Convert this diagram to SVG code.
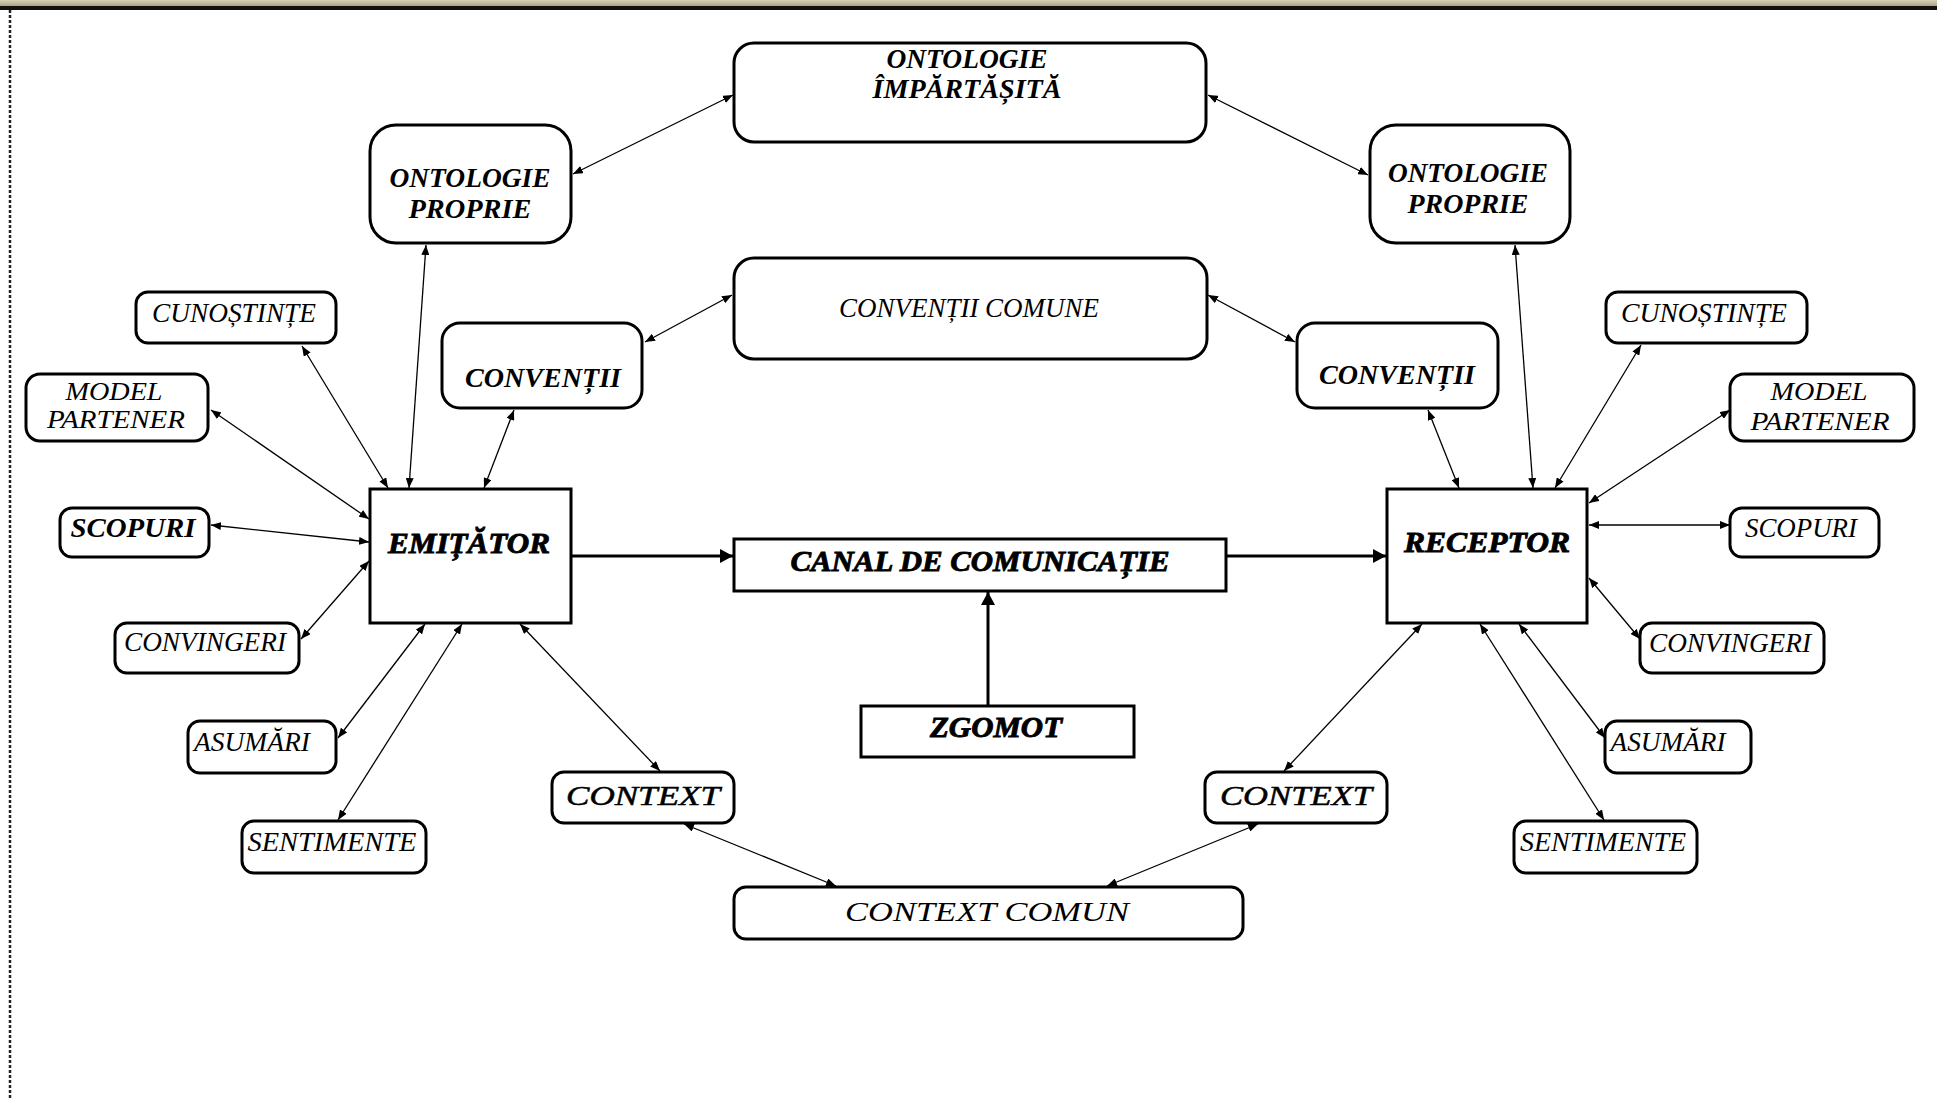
<svg xmlns="http://www.w3.org/2000/svg" width="1937" height="1099" viewBox="0 0 1937 1099">
<style>
.box{fill:#fff;stroke:#000;stroke-width:3}
.t{font-family:"Liberation Serif","Times New Roman",serif;font-style:italic;text-anchor:middle;fill:#000;font-size:28px}
.b{font-weight:bold}
.h{font-weight:bold;stroke:#000;stroke-width:0.9;font-size:30px}
.m{font-size:25px}
.c{stroke:#000;stroke-width:1.3;fill:none;marker-start:url(#a);marker-end:url(#a)}
.k{stroke:#000;stroke-width:3;fill:none;marker-end:url(#k)}
</style>
<defs>
<marker id="a" markerUnits="userSpaceOnUse" markerWidth="10" markerHeight="8" refX="10" refY="4" orient="auto-start-reverse"><path d="M0,0 L10,4 L0,8 z" fill="#000"/></marker>
<marker id="k" markerUnits="userSpaceOnUse" markerWidth="13" markerHeight="14" refX="13" refY="7" orient="auto"><path d="M0,0 L13,7 L0,14 z" fill="#000"/></marker>
<linearGradient id="bar" x1="0" y1="0" x2="0" y2="1"><stop offset="0" stop-color="#d6d2b8"/><stop offset="1" stop-color="#aaa586"/></linearGradient>
</defs>
<rect x="0" y="0" width="1937" height="1099" fill="#fff"/>
<rect x="0" y="0" width="1937" height="6" fill="url(#bar)"/>
<rect x="0" y="6" width="1937" height="4" fill="#111"/>
<line x1="10" y1="10" x2="10" y2="1099" stroke="#222" stroke-width="2.5" stroke-dasharray="3,2"/>

<g id="connectors">
<line class="c" x1="573" y1="174" x2="733" y2="95"/>
<line class="c" x1="1208" y1="95" x2="1368" y2="175"/>
<line class="c" x1="645" y1="342" x2="732" y2="295"/>
<line class="c" x1="1208" y1="295" x2="1295" y2="342"/>
<line class="c" x1="426" y1="245" x2="409" y2="488"/>
<line class="c" x1="514" y1="410" x2="484" y2="488"/>
<line class="c" x1="302" y1="346" x2="388" y2="488"/>
<line class="c" x1="211" y1="410" x2="369" y2="519"/>
<line class="c" x1="211" y1="525" x2="369" y2="542"/>
<line class="c" x1="369" y1="561" x2="301" y2="639"/>
<line class="c" x1="425" y1="624" x2="338" y2="738"/>
<line class="c" x1="462" y1="624" x2="338" y2="820"/>
<line class="c" x1="520" y1="624" x2="660" y2="771"/>
<line class="c" x1="684" y1="824" x2="836" y2="886"/>
<line class="c" x1="1107" y1="886" x2="1258" y2="824"/>
<line class="c" x1="1422" y1="624" x2="1284" y2="771"/>
<line class="c" x1="1480" y1="624" x2="1604" y2="820"/>
<line class="c" x1="1519" y1="624" x2="1605" y2="738"/>
<line class="c" x1="1589" y1="578" x2="1640" y2="639"/>
<line class="c" x1="1589" y1="525" x2="1730" y2="525"/>
<line class="c" x1="1589" y1="503" x2="1730" y2="410"/>
<line class="c" x1="1555" y1="488" x2="1641" y2="345"/>
<line class="c" x1="1533" y1="488" x2="1515" y2="245"/>
<line class="c" x1="1428" y1="410" x2="1459" y2="488"/>
<line class="k" x1="572" y1="556" x2="733" y2="556"/>
<line class="k" x1="1227" y1="556" x2="1386" y2="556"/>
<line class="k" x1="988" y1="706" x2="988" y2="592"/>
</g>

<g id="ontologie-impartasita"><rect class="box" x="734" y="43" width="472" height="99" rx="20"/>
<text class="t b" x="967" y="68" font-size="28" textLength="161" lengthAdjust="spacingAndGlyphs">ONTOLOGIE</text>
<text class="t b" x="967" y="98" font-size="28" textLength="189" lengthAdjust="spacingAndGlyphs">ÎMPĂRTĂȘITĂ</text></g>

<g id="ontologie-proprie-st"><rect class="box" x="370" y="125" width="201" height="118" rx="26"/>
<text class="t b" x="470" y="187" font-size="28" textLength="161" lengthAdjust="spacingAndGlyphs">ONTOLOGIE</text>
<text class="t b" x="470" y="218" font-size="28" textLength="123" lengthAdjust="spacingAndGlyphs">PROPRIE</text></g>

<g id="ontologie-proprie-dr"><rect class="box" x="1370" y="125" width="200" height="118" rx="26"/>
<text class="t b" x="1468" y="182" font-size="28" textLength="160" lengthAdjust="spacingAndGlyphs">ONTOLOGIE</text>
<text class="t b" x="1468" y="213" font-size="28" textLength="121" lengthAdjust="spacingAndGlyphs">PROPRIE</text></g>

<g id="conventii-comune"><rect class="box" x="734" y="258" width="473" height="101" rx="20"/>
<text class="t" x="969" y="317" font-size="29" textLength="260" lengthAdjust="spacingAndGlyphs">CONVENȚII COMUNE</text></g>

<g id="conventii-st"><rect class="box" x="442" y="323" width="200" height="85" rx="18"/>
<text class="t b" x="543" y="387" font-size="29" textLength="156" lengthAdjust="spacingAndGlyphs">CONVENȚII</text></g>

<g id="conventii-dr"><rect class="box" x="1297" y="323" width="201" height="85" rx="18"/>
<text class="t b" x="1397" y="384" font-size="29" textLength="156" lengthAdjust="spacingAndGlyphs">CONVENȚII</text></g>

<g id="emitator"><rect class="box" x="370" y="489" width="201" height="134"/>
<text class="t h" x="469" y="553" textLength="162" lengthAdjust="spacingAndGlyphs">EMIȚĂTOR</text></g>

<g id="receptor"><rect class="box" x="1387" y="489" width="200" height="134"/>
<text class="t h" x="1487" y="552" textLength="166" lengthAdjust="spacingAndGlyphs">RECEPTOR</text></g>

<g id="canal"><rect class="box" x="734" y="539" width="492" height="52"/>
<text class="t h" x="980" y="571" font-size="31" textLength="379" lengthAdjust="spacingAndGlyphs">CANAL DE COMUNICAȚIE</text></g>

<g id="zgomot"><rect class="box" x="861" y="706" width="273" height="51"/>
<text class="t h" x="996" y="737" textLength="132" lengthAdjust="spacingAndGlyphs">ZGOMOT</text></g>

<g id="context-comun"><rect class="box" x="734" y="887" width="509" height="52" rx="12"/>
<text class="t" x="987" y="921" font-size="30" textLength="284" lengthAdjust="spacingAndGlyphs">CONTEXT COMUN</text></g>

<g id="context-st"><rect class="box" x="552" y="772" width="182" height="51" rx="12"/>
<text class="t" x="643" y="805" font-size="30" stroke="#000" stroke-width="0.5" textLength="154" lengthAdjust="spacingAndGlyphs">CONTEXT</text></g>

<g id="context-dr"><rect class="box" x="1205" y="772" width="182" height="51" rx="12"/>
<text class="t" x="1296" y="805" font-size="30" stroke="#000" stroke-width="0.5" textLength="152" lengthAdjust="spacingAndGlyphs">CONTEXT</text></g>

<g id="cunostinte-st"><rect class="box" x="136" y="292" width="200" height="51" rx="12"/>
<text class="t" x="234" y="322" textLength="164" lengthAdjust="spacingAndGlyphs">CUNOȘTINȚE</text></g>

<g id="model-partener-st"><rect class="box" x="26" y="374" width="182" height="67" rx="14"/>
<text class="t m" x="114" y="400" textLength="97" lengthAdjust="spacingAndGlyphs">MODEL</text>
<text class="t m" x="116" y="428" textLength="138" lengthAdjust="spacingAndGlyphs">PARTENER</text></g>

<g id="scopuri-st"><rect class="box" x="60" y="508" width="149" height="49" rx="12"/>
<text class="t b" x="133" y="537" textLength="125" lengthAdjust="spacingAndGlyphs">SCOPURI</text></g>

<g id="convingeri-st"><rect class="box" x="115" y="623" width="184" height="50" rx="12"/>
<text class="t" x="205" y="651" textLength="162" lengthAdjust="spacingAndGlyphs">CONVINGERI</text></g>

<g id="asumari-st"><rect class="box" x="188" y="721" width="148" height="52" rx="12"/>
<text class="t" x="252" y="751" textLength="116" lengthAdjust="spacingAndGlyphs">ASUMĂRI</text></g>

<g id="sentimente-st"><rect class="box" x="242" y="821" width="184" height="52" rx="12"/>
<text class="t" x="332" y="851" textLength="169" lengthAdjust="spacingAndGlyphs">SENTIMENTE</text></g>

<g id="cunostinte-dr"><rect class="box" x="1606" y="292" width="201" height="51" rx="12"/>
<text class="t" x="1704" y="322" textLength="166" lengthAdjust="spacingAndGlyphs">CUNOȘTINȚE</text></g>

<g id="model-partener-dr"><rect class="box" x="1730" y="374" width="184" height="67" rx="14"/>
<text class="t m" x="1819" y="400" textLength="97" lengthAdjust="spacingAndGlyphs">MODEL</text>
<text class="t m" x="1820" y="430" textLength="139" lengthAdjust="spacingAndGlyphs">PARTENER</text></g>

<g id="scopuri-dr"><rect class="box" x="1730" y="508" width="149" height="49" rx="12"/>
<text class="t" x="1801" y="537" textLength="112" lengthAdjust="spacingAndGlyphs">SCOPURI</text></g>

<g id="convingeri-dr"><rect class="box" x="1640" y="623" width="184" height="50" rx="12"/>
<text class="t" x="1730" y="652" textLength="162" lengthAdjust="spacingAndGlyphs">CONVINGERI</text></g>

<g id="asumari-dr"><rect class="box" x="1605" y="721" width="146" height="52" rx="12"/>
<text class="t" x="1668" y="751" textLength="115" lengthAdjust="spacingAndGlyphs">ASUMĂRI</text></g>

<g id="sentimente-dr"><rect class="box" x="1514" y="821" width="183" height="52" rx="12"/>
<text class="t" x="1603" y="851" textLength="166" lengthAdjust="spacingAndGlyphs">SENTIMENTE</text></g>
</svg>
